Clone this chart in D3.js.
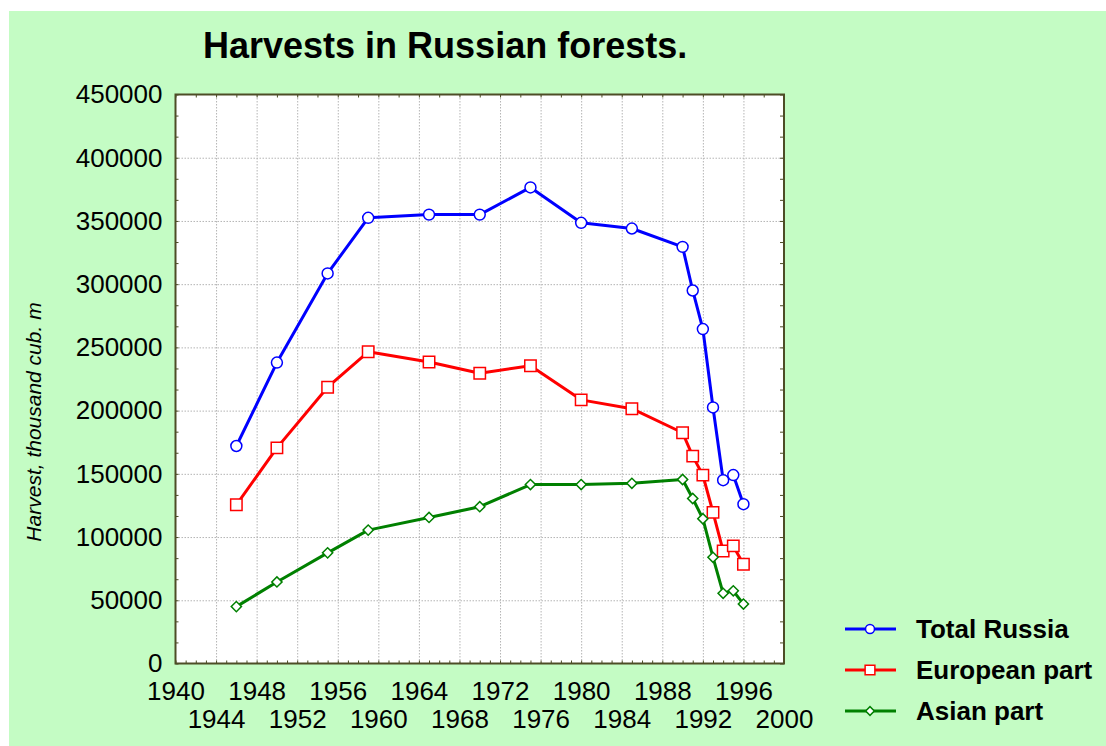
<!DOCTYPE html>
<html>
<head>
<meta charset="utf-8">
<script src="https://cdn.jsdelivr.net/npm/d3@7"></script>
<style>
    body { margin: 0; background: #ffffff; }
    text { font-family: 'Liberation Sans', Arial, sans-serif; fill: #000; }
</style>
</head>
<body>
<svg id="canvas" width="1106" height="746"></svg>
<script>

// values (thousand cub. m)
let years = [1946, 1950, 1955, 1959, 1965, 1970, 1975, 1980, 1985, 1990, 1991, 1992, 1993, 1994, 1995, 1996]
let totalRussia = [172000, 238000, 308500, 352500, 355000, 355000, 376500, 348500, 344000, 329500, 295000, 264500, 202500, 145000, 149000, 126000]
let europeanPart = [125500, 170500, 218500, 246500, 238500, 229500, 235500, 208500, 201500, 182500, 164000, 149000, 119500, 89000, 93000, 78500]
let asianPart = [45000, 64500, 87500, 105500, 115500, 124000, 141500, 141500, 142500, 145500, 130500, 114500, 84000, 55500, 57500, 47000]

let seriesNames = ['Total Russia', 'European part', 'Asian part']
let seriesColors = ['#0000ff', '#ff0000', '#008000']

let xTicksRow1 = [1940, 1948, 1956, 1964, 1972, 1980, 1988, 1996]
let xTicksRow2 = [1944, 1952, 1960, 1968, 1976, 1984, 1992, 2000]
let yTicks = [0, 50000, 100000, 150000, 200000, 250000, 300000, 350000, 400000, 450000]

let chartTitle = 'Harvests in Russian forests.'
let yTitle = 'Harvest, thousand cub. m'

let canvas = d3.select('#canvas')

let plotLeft = 175.5
let plotRight = 784
let plotTop = 94.5
let plotBottom = 663.5
let plotWidth = plotRight - plotLeft
let plotHeight = plotBottom - plotTop

let xScale = d3.scaleLinear().domain([1940, 2000]).range([0, plotWidth])
let yScale = d3.scaleLinear().domain([0, 450000]).range([plotHeight, 0])

// background
canvas.append('rect')
    .attr('x', 9).attr('y', 11)
    .attr('width', 1106 - 9).attr('height', 746 - 11)
    .attr('fill', '#c4fcc4')

canvas.append('text')
    .attr('x', 203)
    .attr('y', 58)
    .style('font-size', '36px')
    .style('font-weight', 'bold')
    .text(chartTitle)

canvas.append('text')
    .attr('transform', 'translate(41, 422) rotate(-90)')
    .attr('text-anchor', 'middle')
    .style('font-size', '21px')
    .style('font-style', 'italic')
    .text(yTitle)

let plot = canvas.append('g')
    .attr('transform', 'translate(' + plotLeft + ',' + plotTop + ')')

plot.append('rect')
    .attr('width', plotWidth)
    .attr('height', plotHeight)
    .attr('fill', '#ffffff')

let range = (a, b, step) => {
    let out = []
    for (let v = a; v <= b + 1e-6; v += step) out.push(v)
    return out
}

let cleanAxis = (g) => {
    g.select('.domain').remove()
    g.selectAll('line').attr('stroke', '#4d4d26')
}

let gridStyle = (g) => {
    g.select('.domain').remove()
    g.selectAll('line').attr('stroke', '#b4b4b4').attr('stroke-dasharray', '1.5,1.5')
}

// dotted grid
plot.append('g')
    .attr('transform', 'translate(0,' + plotHeight + ')')
    .call(d3.axisBottom(xScale).tickValues(range(1944, 1996, 4)).tickSize(-plotHeight).tickFormat(''))
    .call(gridStyle)

plot.append('g')
    .call(d3.axisLeft(yScale).tickValues(range(50000, 400000, 50000)).tickSize(-plotWidth).tickFormat(''))
    .call(gridStyle)

// small ticks on the frame
plot.append('g')
    .attr('transform', 'translate(0,' + plotHeight + ')')
    .call(d3.axisBottom(xScale).tickValues(range(1940, 2000, 1)).tickSize(-3).tickFormat(''))
    .call(cleanAxis)

plot.append('g')
    .call(d3.axisTop(xScale).tickValues(range(1940, 2000, 2)).tickSize(-3).tickFormat(''))
    .call(cleanAxis)

plot.append('g')
    .call(d3.axisLeft(yScale).tickValues(range(0, 450000, 50000 / 3)).tickSize(-3).tickFormat(''))
    .call(cleanAxis)

plot.append('g')
    .attr('transform', 'translate(' + plotWidth + ',0)')
    .call(d3.axisRight(yScale).tickValues(range(0, 450000, 50000 / 3)).tickSize(-4).tickFormat(''))
    .call(cleanAxis)

// tick labels
let labelAxis = (g) => {
    g.select('.domain').remove()
    g.selectAll('line').remove()
    g.selectAll('text')
        .style('font-family', "'Liberation Sans', Arial, sans-serif")
        .style('font-size', '26px')
        .attr('fill', '#000')
}

plot.append('g')
    .call(d3.axisLeft(yScale).tickValues(yTicks).tickSize(0).tickPadding(13).tickFormat(d3.format('d')))
    .call(labelAxis)

plot.append('g')
    .attr('transform', 'translate(0,' + plotHeight + ')')
    .call(d3.axisBottom(xScale).tickValues(xTicksRow1).tickSize(0).tickPadding(18).tickFormat(d3.format('d')))
    .call(labelAxis)

plot.append('g')
    .attr('transform', 'translate(0,' + plotHeight + ')')
    .call(d3.axisBottom(xScale).tickValues(xTicksRow2).tickSize(0).tickPadding(46).tickFormat(d3.format('d')))
    .call(labelAxis)

// frame
plot.append('rect')
    .attr('width', plotWidth)
    .attr('height', plotHeight)
    .attr('fill', 'none')
    .attr('stroke', '#4d4d26')
    .attr('stroke-width', 2)

// series
let seriesData = [totalRussia, europeanPart, asianPart]

let markerPath = [
    d3.symbol().type(d3.symbolCircle).size(Math.PI * 30)(),
    d3.symbol().type(d3.symbolSquare).size(130)(),
    d3.symbol().type(d3.symbolSquare).size(52)()
]
let legendMarkerPath = [
    d3.symbol().type(d3.symbolCircle).size(Math.PI * 20)(),
    d3.symbol().type(d3.symbolSquare).size(95)(),
    d3.symbol().type(d3.symbolSquare).size(38)()
]

let line = d3.line()
    .x((d) => xScale(d[0]))
    .y((d) => yScale(d[1]))

seriesData.forEach((values, i) => {
    let points = years.map((yr, j) => [yr, values[j]])

    plot.append('path')
        .datum(points)
        .attr('d', line)
        .attr('fill', 'none')
        .attr('stroke', seriesColors[i])
        .attr('stroke-width', 3)
        .attr('stroke-linejoin', 'round')

    plot.selectAll('.marker-' + i)
        .data(points)
        .enter()
        .append('path')
        .attr('class', 'marker-' + i)
        .attr('d', markerPath[i])
        .attr('transform', (d) => {
            let t = 'translate(' + xScale(d[0]) + ',' + yScale(d[1]) + ')'
            return i === 2 ? t + ' rotate(45)' : t
        })
        .attr('fill', '#ffffff')
        .attr('stroke', seriesColors[i])
        .attr('stroke-width', 1.5)
})

// legend
let legend = canvas.append('g')
    .attr('transform', 'translate(845, 629)')

seriesNames.forEach((name, i) => {
    let row = legend.append('g')
        .attr('transform', 'translate(0,' + (i * 41) + ')')

    row.append('line')
        .attr('x1', 0).attr('x2', 51)
        .attr('y1', 0).attr('y2', 0)
        .attr('stroke', seriesColors[i])
        .attr('stroke-width', 3)

    row.append('path')
        .attr('d', legendMarkerPath[i])
        .attr('transform', 'translate(25,0)' + (i === 2 ? ' rotate(45)' : ''))
        .attr('fill', '#ffffff')
        .attr('stroke', seriesColors[i])
        .attr('stroke-width', 1.5)

    row.append('text')
        .attr('x', 71)
        .attr('y', 9)
        .style('font-size', '26px')
        .style('font-weight', 'bold')
        .text(name)
})

</script>
</body>
</html>
